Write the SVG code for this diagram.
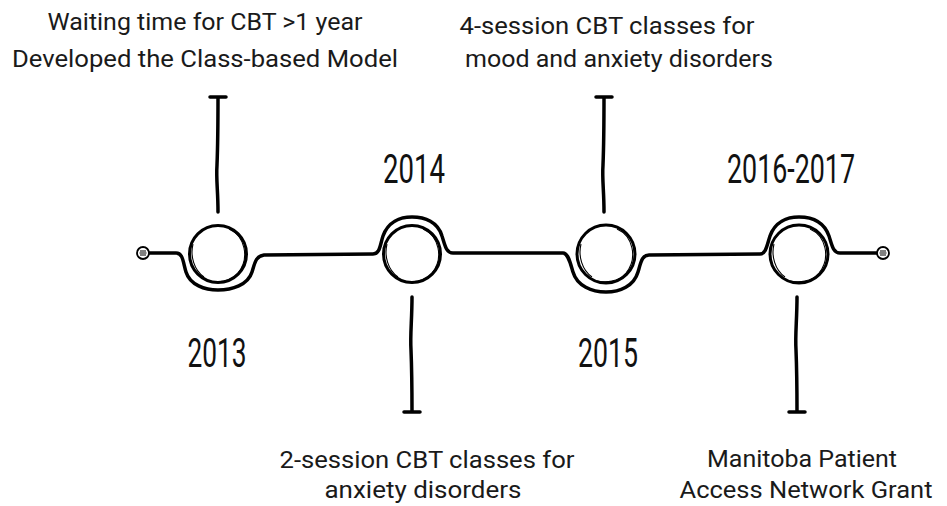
<svg xmlns="http://www.w3.org/2000/svg" width="947" height="506" viewBox="0 0 947 506">
<style>
.ln{fill:none;stroke:#000;stroke-width:3.5;stroke-linecap:round;stroke-linejoin:round}
.node{fill:#fff;stroke:#000;stroke-width:3}
.sk{fill:none;stroke:#000;stroke-width:1.1}
.lbl{font-family:Roboto,"Liberation Sans",sans-serif;font-size:23px;font-weight:400;fill:#1a1a1a;text-anchor:middle}
.yr{font-family:Roboto,"Liberation Sans",sans-serif;font-size:40px;font-weight:400;fill:#111;text-anchor:middle}
.end{fill:#fff;stroke:#000;stroke-width:1.8}
</style>
<rect width="947" height="506" fill="#fff"/>
<g id="connectors">
<path class="ln" d="M149,253 L176,253 C183,253 183,262 186,272 C190,285 205,290 218,290 C232,290 248,285 252,272 C255,262 256,256 264,255 L373,254 C380,254 380,245 383,236 C388,222 400,217 412,217 C425,217 438,222 442,236 C445,245 446,253 453,253 L563,253 C568,253 570,262 573,272 C577,286 592,292 606,292 C620,292 634,286 638,272 C641,262 642,255 649,255 L760,254 C766,254 767,245 770,236 C775,222 787,217 799,217 C812,217 824,222 829,236 C832,245 833,253 840,253 L877,253"/>
<path class="ln" d="M218,212 C218,190 216,180 217,165 C218,140 218,120 218,97 M210,97 L226,97"/>
<path class="ln" d="M604,212 C604,190 602,180 603,165 C604,140 604,120 604,97 M596,97 L612,97"/>
<path class="ln" d="M412,297 C412,320 410,335 411,350 C412,375 412,395 412,412 M404,412 L420,412"/>
<path class="ln" d="M797,297 C797,320 795,335 796,350 C797,375 797,395 797,412 M789,412 L805,412"/>
</g>
<g id="end-left">
<circle class="end" cx="143" cy="253" r="6"/>
<path class="sk" d="M140,251 H146 M139.5,253 H146.5 M140,255 H146"/>
</g>
<g id="end-right">
<circle class="end" cx="883" cy="253" r="6"/>
<path class="sk" d="M880,251 H886 M879.5,253 H886.5 M880,255 H886"/>
</g>
<g id="node-2013">
<circle class="node" cx="218" cy="254" r="28.5"/>
<path class="sk" d="M229,229 C245,236 250,258 238,273 C230,282 218,283 209,281"/>
<path class="sk" d="M193,244 C190,256 194,270 204,277"/>
<text class="yr" x="217" y="367" textLength="59" lengthAdjust="spacingAndGlyphs">2013</text>
<text class="lbl" x="205" y="30" textLength="315" lengthAdjust="spacingAndGlyphs">Waiting time for CBT &gt;1 year</text>
<text class="lbl" x="205" y="67" textLength="386" lengthAdjust="spacingAndGlyphs">Developed the Class-based Model</text>
</g>
<g id="node-2014">
<circle class="node" cx="412" cy="254" r="28.5"/>
<path class="sk" d="M423,229 C439,236 444,258 432,273 C424,282 412,283 403,281"/>
<path class="sk" d="M387,244 C384,256 388,270 398,277"/>
<text class="yr" x="414" y="183" textLength="62" lengthAdjust="spacingAndGlyphs">2014</text>
<text class="lbl" x="427" y="468" textLength="295" lengthAdjust="spacingAndGlyphs">2-session CBT classes for</text>
<text class="lbl" x="423" y="498" textLength="197" lengthAdjust="spacingAndGlyphs">anxiety disorders</text>
</g>
<g id="node-2015">
<circle class="node" cx="606" cy="254" r="29"/>
<path class="sk" d="M617,229 C633,236 638,258 626,273 C618,282 606,283 597,281"/>
<path class="sk" d="M581,244 C578,256 582,270 592,277"/>
<text class="yr" x="608" y="367" textLength="60" lengthAdjust="spacingAndGlyphs">2015</text>
<text class="lbl" x="607" y="34" textLength="295" lengthAdjust="spacingAndGlyphs">4-session CBT classes for</text>
<text class="lbl" x="619" y="67" textLength="308" lengthAdjust="spacingAndGlyphs">mood and anxiety disorders</text>
</g>
<g id="node-2016-2017">
<circle class="node" cx="799" cy="254" r="29"/>
<path class="sk" d="M810,229 C826,236 831,258 819,273 C811,282 799,283 790,281"/>
<path class="sk" d="M774,244 C771,256 775,270 785,277"/>
<text class="yr" x="791" y="183" textLength="128" lengthAdjust="spacingAndGlyphs">2016-2017</text>
<text class="lbl" x="802" y="467" textLength="190" lengthAdjust="spacingAndGlyphs">Manitoba Patient</text>
<text class="lbl" x="806" y="498" textLength="253" lengthAdjust="spacingAndGlyphs">Access Network Grant</text>
</g>
</svg>
